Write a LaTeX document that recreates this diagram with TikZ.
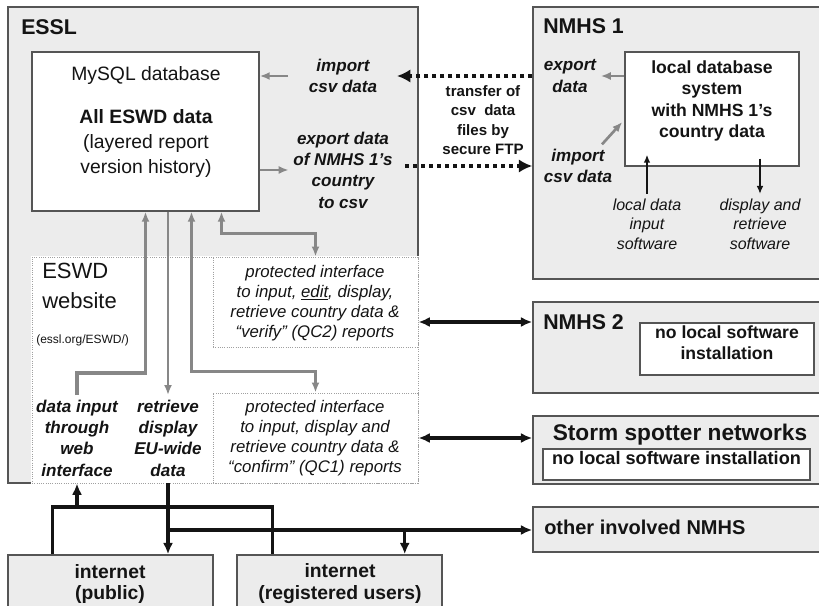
\documentclass[tikz,border=0pt]{standalone}
\usepackage{fontspec}
\setmainfont{Liberation Sans}
\usetikzlibrary{fit,calc,arrows.meta}
\definecolor{panelgray}{RGB}{236,236,236}
\definecolor{edgegray}{RGB}{85,85,85}
\definecolor{arrowgray}{RGB}{135,135,135}
\definecolor{dotgray}{RGB}{160,160,160}
\definecolor{inkblack}{RGB}{20,20,20}

\begin{document}
\begin{tikzpicture}[x=0.75pt, y=-0.75pt,
    panel/.style={draw=edgegray, fill=panelgray, line width=1.1pt, inner sep=0pt},
    whitebox/.style={draw=edgegray, fill=white, line width=1.1pt, inner sep=0pt},
    dotbox/.style={draw=dotgray, fill=white, densely dotted, line width=0.7pt, inner sep=0pt},
    title/.style={font=\fontsize{16}{19}\selectfont\bfseries, text=inkblack, inner sep=0pt},
    bigtext/.style={font=\fontsize{14.5}{18.5}\selectfont, align=center, text=inkblack},
    boldtext/.style={font=\fontsize{13.2}{16}\selectfont\bfseries, align=center, text=inkblack},
    actlbl/.style={font=\fontsize{12.8}{16}\selectfont\bfseries\itshape, align=center, text=inkblack},
    swlbl/.style={font=\fontsize{12}{14.6}\selectfont\itshape, align=center, text=inkblack},
    protlbl/.style={font=\fontsize{12.6}{15}\selectfont\itshape, align=center, text=inkblack},
    ftptext/.style={font=\fontsize{11.3}{14.6}\selectfont\bfseries, align=center, text=inkblack},
    nettext/.style={font=\fontsize{14.5}{16.5}\selectfont\bfseries, align=center, text=inkblack},
    thinarrow/.style={draw=inkblack, line width=1.1pt, >={Latex[length=6pt,width=5pt]}},
    grayarrow/.style={draw=arrowgray, line width=2pt, >={Latex[length=7.5pt,width=6pt]}},
    blackline/.style={draw=inkblack, line width=2.6pt, >={Latex[length=8.5pt,width=7.5pt]}},
    ftparrow/.style={draw=inkblack, line width=3pt, dash pattern=on 3pt off 3pt, >={Latex[length=10pt,width=10pt]}},
  ]
    \path[use as bounding box, fill=white] (0,0) rectangle (819,606);

    % Panels
    \node (essl) [panel, fit={(8,7) (418,483)}] {};
    \node (nmhs1) [panel, fit={(533,7) (826,279)}] {};
    \node (nmhs2) [panel, fit={(533,302) (826,393)}] {};
    \node (storm) [panel, fit={(533,416) (826,484)}] {};
    \node (other) [panel, fit={(533,507) (826,552)}] {};
    \node (netpublic) [panel, fit={(8,555) (213,614)}] {};
    \node (netreg) [panel, fit={(237,555) (442,614)}] {};

    % ESSL
    \node (essltitle) [title, anchor=west] at (21,27) {ESSL};
    \node (mysql) [whitebox, fit={(32,52) (259,211)}] {};
    \node (mysqltxt) [bigtext] at (146,122) {MySQL database\\[14pt]\textbf{All ESWD data}\\(layered report\\version history)};
    \node (importlbl) [actlbl] at (343,76) {import\\csv data};
    \node (exportlbl) [actlbl] at (343,170) {export data\\of NMHS 1's\\country\\to csv};

    % website
    \node (website) [dotbox, preaction={draw=white, solid, line width=1.8pt}, fit={(32,257) (418,483)}] {};
    \node (protA) [dotbox, fit={(213,257) (418,347)}] {};
    \node (protB) [dotbox, fit={(213,393) (418,483)}] {};
    \node (eswdtxt) [font=\fontsize{16.5}{22.5}\selectfont, align=left, text=inkblack, anchor=north west, inner sep=0pt] at (42,263) {ESWD\\website};
    \node (eswdurl) [font=\fontsize{9}{11}\selectfont, text=inkblack, anchor=west, inner sep=0pt] at (36,340) {(essl.org/ESWD/)};
    \node (protAtxt) [protlbl] at (315,303) {protected interface\\to input, \underline{edit}, display,\\retrieve country data \&\\“verify” (QC2) reports};
    \node (protBtxt) [protlbl] at (315,438) {protected interface\\to input, display and\\retrieve country data \&\\“confirm” (QC1) reports};
    \node (datainput) [actlbl] at (77,438) {data input\\through\\web\\interface};
    \node (retrievelbl) [actlbl] at (168,438) {retrieve\\display\\EU-wide\\data};

    % NMHS 1
    \node (nmhs1title) [title, anchor=west] at (543,26) {NMHS 1};
    \node (localdb) [whitebox, fit={(625,52) (799,166)}] {};
    \node (localdbtxt) [boldtext] at (712,101) {local database\\system\\with NMHS 1's\\country data};
    \node (expdata) [actlbl] at (570,76) {export\\data};
    \node (impdata) [actlbl] at (578,166) {import\\csv data};
    \node (inputsw) [swlbl] at (647,224) {local data\\input\\software};
    \node (displaysw) [swlbl] at (760,224) {display and\\retrieve\\software};
    \node (ftplbl) [ftptext] at (483,120) {transfer of\\csv~ data\\files by\\secure FTP};

    % other partners
    \node (nmhs2title) [title, anchor=west] at (543,322) {NMHS 2};
    \node (nolocal2) [whitebox, boldtext, fit={(640,323) (814,375)}] {no local software\\installation};
    \node (stormtitle) [title, font=\fontsize{17}{20}\selectfont\bfseries] at (680,435) {Storm spotter networks};
    \node (nolocal3) [whitebox, boldtext, font=\fontsize{13.6}{16}\selectfont\bfseries, fit={(543,449) (810,480)}] {no local software installation};
    \node (otherlbl) [title, font=\fontsize{15}{18}\selectfont\bfseries, anchor=west] at (544,527) {other involved NMHS};
    \node (netpubtxt) [nettext] at (110,584) {internet\\(public)};
    \node (netregtxt) [nettext] at (340,584) {internet\\(registered users)};

    % Edges
    \coordinate (ftpin) at (397,76);
    \coordinate (ftpout) at (405,166);
    \coordinate (webjoin) at (77,507);
    \coordinate (eujoin) at (168,530);
    \coordinate (regdrop) at ($(netreg.north east)+(-38,0)$);

    \draw[grayarrow, ->] ($(importlbl.west)+(-16,0)$) -- (mysql.east |- importlbl.west);
    \draw[grayarrow, ->] (mysql.east |- exportlbl.west) -- (exportlbl.west);
    \draw[ftparrow, ->] (nmhs1.west |- ftpin) -- (ftpin);
    \draw[ftparrow, ->] (ftpout) -- (ftpout -| nmhs1.west);
    \draw[grayarrow, ->] (localdb.west |- expdata.east) -- (expdata.east);
    \draw[grayarrow, ->] ($(impdata.north)+(24,0)$) -- ($(localdb.west)+(-2,13)$);
    \draw[thinarrow, ->] (inputsw.north) -- ($(inputsw.north |- localdb.south)+(0,-12)$);  % tip ends inside the box
    \draw[thinarrow, ->] ($(localdb.south -| displaysw.north)+(0,-8)$) -- (displaysw.north);

    \draw[grayarrow, ->, line width=2.8pt] (datainput.north) -- ++(0,-22) -| (mysql.south);
    \draw[grayarrow, ->] (mysql.south -| retrievelbl.north) -- (retrievelbl.north);
    \draw[grayarrow, <->] ($(mysql.south)+(46,0)$) |- ($(protB.north)+(0,-21)$) -- (protB.north);
    \draw[grayarrow, <->] ($(mysql.south)+(76,0)$) |- ($(protA.north)+(0,-23)$) -- (protA.north);

    \draw[blackline, <->] (protA.east |- nmhs2title.west) -- (nmhs2.west |- nmhs2title.west);
    \draw[blackline, <->] (protB.east) -- (protB.east -| storm.west);
    \draw[blackline] ($(netpublic.north west)+(45,0)$) |- (webjoin) -| ($(netreg.north west)+(36,0)$);
    \draw[blackline, ->] (webjoin) -- (webjoin |- website.south);
    \draw[blackline, ->] (retrievelbl.south |- website.south) -- (retrievelbl.south |- netpublic.north);
    \draw[blackline, ->] (eujoin) -- (eujoin -| other.west);
    \draw[blackline, ->] (regdrop |- eujoin) -- (regdrop);
\end{tikzpicture}
\end{document}
